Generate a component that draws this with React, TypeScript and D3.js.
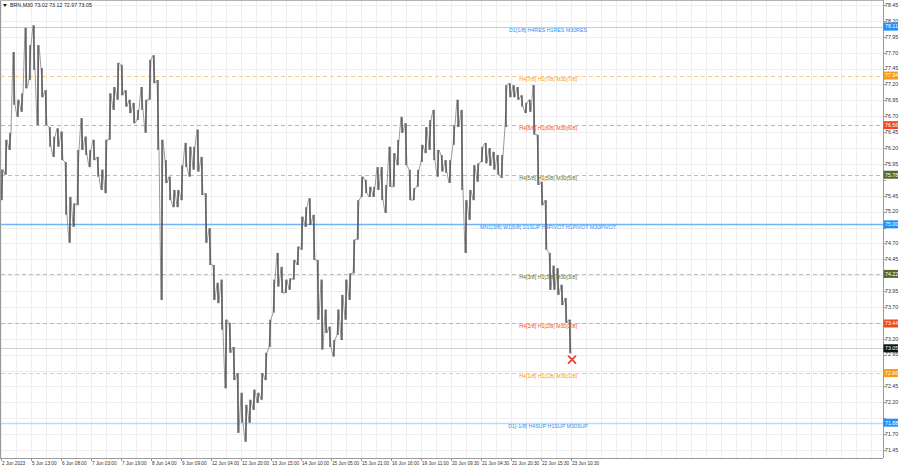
import React from "react";
import * as d3 from "d3";

const W = 900;
const H = 468;

// Symbol header: open, high, low, close of the last bar
const symbol = "BRN,M30";
const lastOHLC = [73.02, 73.12, 72.97, 73.05];

// Bar highs / lows (left to right)
const highs = [
  75.86, 76.33, 76.44, 77.71, 76.96, 77.06, 78.09, 77.82, 78.13, 77.82,
  77.46, 77.11, 76.53, 76.38, 76.51, 76.46, 75.98, 75.43, 75.33, 76.17,
  76.67, 76.38, 76.17, 76.33, 76.06, 75.86, 76.33, 77.06, 77.16, 77.54,
  77.51, 77.11, 76.96, 76.91, 76.8, 77.16, 76.96, 77.59, 77.66, 77.27,
  76.33, 76.01, 75.75, 75.54, 75.54, 75.93, 76.28, 76.22, 76.22, 76.49,
  76.06, 75.49, 74.94, 74.36, 74.08, 74.13, 73.5, 73.45, 73.07, 72.66,
  72.35, 72.16, 72.24, 72.4, 72.35, 72.66, 72.98, 73.5, 74.13, 74.55,
  74.33, 74.13, 74.15, 74.44, 74.65, 75.12, 75.27, 75.41, 75.15, 74.44,
  74.13, 73.66, 73.39, 73.18, 73.66, 73.89, 74.13, 74.23, 74.76, 75.38,
  75.75, 75.7, 75.59, 75.59, 75.9, 75.9, 75.62, 76.22, 76.12, 76.33,
  76.69, 76.59, 75.86, 75.57, 75.86, 76.25, 76.53, 76.64, 76.8, 76.17,
  76.09, 76.01, 76.01, 76.56, 76.96, 76.8, 75.38, 75.54, 75.93, 75.96,
  76.22, 76.28, 76.2, 76.14, 76.09, 76.09, 77.19, 77.22, 77.19, 77.16,
  77.03, 76.91, 76.96, 77.19, 76.41, 75.67, 75.38, 74.55, 74.35, 74.31,
  74.05, 73.84, 73.5,
];
const lows = [
  75.38, 75.78, 76.17, 76.88, 76.69, 76.77, 77.14, 77.27, 77.43, 76.56,
  77.0, 76.56, 76.22, 76.06, 76.22, 76.01, 75.15, 74.71, 74.96, 75.3,
  76.17, 76.09, 75.9, 76.01, 75.75, 75.54, 75.49, 76.33, 76.8, 76.96,
  77.03, 76.85, 76.75, 76.59, 76.64, 76.8, 76.44, 76.96, 77.22, 76.17,
  73.81, 75.65, 75.38, 75.27, 75.27, 75.38, 75.9, 75.75, 75.86, 75.83,
  75.46, 74.71, 74.36, 73.81, 73.76, 73.34, 72.42, 72.98, 72.55, 71.72,
  71.88, 71.58, 71.88, 72.08, 72.19, 72.24, 72.55, 73.07, 73.61, 74.02,
  73.92, 73.92, 73.97, 74.13, 74.36, 74.6, 74.96, 74.99, 74.44, 73.5,
  73.03, 73.29, 73.07, 72.92, 73.26, 73.18, 73.5, 73.81, 74.23, 74.76,
  75.43, 75.49, 75.43, 75.43, 75.54, 75.38, 75.18, 75.59, 75.59, 75.93,
  76.44, 75.93, 75.38, 75.38, 75.59, 75.98, 76.12, 76.17, 76.01, 75.75,
  75.83, 75.81, 75.65, 76.25, 76.53, 75.54, 74.55, 75.07, 75.38, 75.67,
  75.98, 75.96, 75.92, 75.86, 75.78, 75.73, 76.53, 77.0, 77.0, 76.96,
  76.85, 76.75, 76.77, 76.41, 75.62, 75.3, 74.6, 73.97, 73.97, 73.89,
  73.73, 73.45, 72.97,
];

// Price axis tick labels
const priceTickLabels = [
  "78.45", "78.20", "77.95", "77.70", "77.45", "77.20", "76.95", "76.70",
  "76.45", "76.20", "75.95", "75.70", "75.45", "75.20", "74.95", "74.70",
  "74.45", "74.20", "73.95", "73.70", "73.45", "73.20", "72.95", "72.70",
  "72.45", "72.20", "71.95", "71.70", "71.45",
];

// Time axis labels
const timeLabels = [
  "2 Jun 2023", "5 Jun 13:00", "6 Jun 08:00", "7 Jun 03:00", "7 Jun 19:00",
  "8 Jun 14:00", "9 Jun 09:00", "12 Jun 04:00", "12 Jun 20:00", "13 Jun 15:00",
  "14 Jun 10:00", "15 Jun 05:00", "15 Jun 21:00", "16 Jun 16:00", "19 Jun 11:00",
  "20 Jun 09:30", "21 Jun 04:30", "21 Jun 20:30", "22 Jun 15:30", "23 Jun 10:30",
];
const barsPerTimeLabel = 7.5;

// Murrey math style levels
const levelPrices = [78.11, 77.34, 76.56, 75.78, 75.0, 74.22, 73.44, 72.66, 71.88];
const levelNames = [
  "D1[1/8] H4RES H1RES M30RES",
  "H4[7/8] H1[7/8] M30[7/8]",
  "H4[6/8] H1[6/8] M30[6/8]",
  "H4[5/8] H1[5/8] M30[5/8]",
  "MN1[3/8] W1[6/8] D1SUP H4PIVOT H1PIVOT M30PIVOT",
  "H4[3/8] H1[3/8] M30[3/8]",
  "H4[2/8] H1[2/8] M30[2/8]",
  "H4[1/8] H1[1/8] M30[1/8]",
  "D1[-1/8] H4SUP H1SUP M30SUP",
];
const levelKinds = ["res", "o7", "o6", "g", "pivot", "g", "o6", "o7", "sup"];

// Red cross marker (bar index, price)
const crossMark = [142.5, 72.87];

const kindStyle: Record<string, { line: string; dash: string | null; width: number; text: string; box: string }> = {
  res: { line: "#a9d3fb", dash: null, width: 1, text: "#2f8ff0", box: "#1e90ff" },
  pivot: { line: "#6db4fb", dash: null, width: 1.3, text: "#2f8ff0", box: "#1e90ff" },
  sup: { line: "#b9dcfc", dash: null, width: 1.5, text: "#2f8ff0", box: "#1e90ff" },
  o7: { line: "#fbc98f", dash: "4,3", width: 1, text: "#f59a1a", box: "#f59a1a" },
  o6: { line: "#fa9f84", dash: "4,3", width: 1, text: "#f0502a", box: "#ee4a1e" },
  g: { line: "#c3bdad", dash: "4,3", width: 1, text: "#5d7330", box: "#55692c" },
};

const FONT = "'Liberation Sans', Arial, sans-serif";

export default function App() {
  const plotLeft = 0;
  const plotRight = 883;
  const plotTop = 1;
  const plotBottom = 458;

  const x = d3.scaleLinear().domain([0, highs.length - 1]).range([2, 570]);
  const y = d3.scaleLinear().domain([71.45, 78.45]).range([450, 5]);

  const tickValues = priceTickLabels.map((s) => +s);
  const boxPrices = [...levelPrices, lastOHLC[3]];
  const hiddenTick = (v: number) => boxPrices.some((p) => Math.abs(y(p) - y(v)) < 5.5);

  // vertical grid every half time-label spacing
  const gridXs: number[] = [];
  for (let k = 0; k * (barsPerTimeLabel / 2) <= 230; k++) {
    const gx = x(k * (barsPerTimeLabel / 2)) - 0.5;
    if (gx < plotRight) gridXs.push(gx);
  }

  // zigzag path through bars
  const pts: [number, number][] = [];
  for (let i = 0; i < highs.length; i++) {
    const mid = (highs[i] + lows[i]) / 2;
    const nextMid = i < highs.length - 1 ? (highs[i + 1] + lows[i + 1]) / 2 : lastOHLC[3];
    if (nextMid < mid) {
      pts.push([x(i) - 1, y(highs[i])]);
      pts.push([x(i) + 1, y(lows[i])]);
    } else {
      pts.push([x(i) - 1, y(lows[i])]);
      pts.push([x(i) + 1, y(highs[i])]);
    }
  }
  const zig = d3.line()(pts) || "";

  const lastClose = lastOHLC[3];

  return (
    <div style={{ position: "fixed", left: 0, top: 0, width: W, height: H, background: "#fff" }}>
      <svg width={W} height={H} style={{ display: "block" }} fontFamily={FONT}>
        <rect x={0} y={0} width={W} height={H} fill="#ffffff" />
        {/* grid */}
        {gridXs.map((gx, i) => (
          <line key={"gx" + i} x1={gx} x2={gx} y1={plotTop} y2={plotBottom} stroke="#eeeeee" strokeWidth={1} />
        ))}
        {tickValues.map((v, i) => (
          <line key={"gy" + i} x1={plotLeft} x2={plotRight} y1={Math.round(y(v)) + 0.5} y2={Math.round(y(v)) + 0.5} stroke="#eeeeee" strokeWidth={1} />
        ))}

        {/* frame */}
        <line x1={0.5} x2={0.5} y1={0} y2={plotBottom} stroke="#9a9a9a" />
        <line x1={0} x2={plotRight} y1={0.5} y2={0.5} stroke="#b5b5b5" />
        <line x1={plotRight + 0.5} x2={plotRight + 0.5} y1={0} y2={plotBottom} stroke="#9a9a9a" />
        <line x1={0} x2={plotRight} y1={plotBottom + 0.5} y2={plotBottom + 0.5} stroke="#9a9a9a" />

        {/* level lines */}
        {levelPrices.map((p, i) => {
          const st = kindStyle[levelKinds[i]];
          const ly = Math.round(y(p)) + 0.5;
          return (
            <line key={"lv" + i} x1={1} x2={plotRight} y1={ly} y2={ly} stroke={st.line} strokeWidth={st.width} strokeDasharray={st.dash || undefined} />
          );
        })}
        {/* current price line */}
        <line x1={1} x2={plotRight} y1={Math.round(y(lastClose)) + 0.5} y2={Math.round(y(lastClose)) + 0.5} stroke="#d0d0d0" strokeWidth={1} />

        {/* price bars */}
        <path d={zig} fill="none" stroke="#9a9a9a" strokeWidth={1} strokeLinejoin="round" />
        {highs.map((h, i) => (
          <rect key={"b" + i} x={x(i) - 0.6} y={y(h)} width={1.2} height={Math.max(1, y(lows[i]) - y(h))} fill="#3d3d3d" />
        ))}

        {/* level labels */}
        {levelPrices.map((p, i) => {
          const st = kindStyle[levelKinds[i]];
          return (
            <text key={"lt" + i} x={548} y={y(p) + 5} fontSize={5.3} fill={st.text} textAnchor="middle">
              {levelNames[i]}
            </text>
          );
        })}

        {/* red cross */}
        <g stroke="#e8413a" strokeWidth={1.8} strokeLinecap="round">
          <line x1={x(crossMark[0]) - 3.5} x2={x(crossMark[0]) + 3.5} y1={y(crossMark[1]) - 3.5} y2={y(crossMark[1]) + 3.5} />
          <line x1={x(crossMark[0]) - 3.5} x2={x(crossMark[0]) + 3.5} y1={y(crossMark[1]) + 3.5} y2={y(crossMark[1]) - 3.5} />
        </g>

        {/* price axis ticks */}
        {tickValues.map((v, i) => (
          <g key={"pt" + i}>
            <line x1={plotRight} x2={plotRight + 3} y1={Math.round(y(v)) + 0.5} y2={Math.round(y(v)) + 0.5} stroke="#9a9a9a" />
            {!hiddenTick(v) && (
              <text x={885} y={y(v)} dy="0.35em" fontSize={5.3} fill="#333">
                {priceTickLabels[i]}
              </text>
            )}
          </g>
        ))}

        {/* level price boxes */}
        {levelPrices.map((p, i) => {
          const st = kindStyle[levelKinds[i]];
          return (
            <g key={"bx" + i}>
              <rect x={plotRight + 0.5} y={y(p) - 4} width={14.5} height={8} fill={st.box} />
              <text x={885} y={y(p)} dy="0.35em" fontSize={5.3} fill="#fff">
                {p.toFixed(2)}
              </text>
            </g>
          );
        })}
        <rect x={plotRight + 0.5} y={y(lastClose) - 4} width={14.5} height={8} fill="#111" />
        <text x={885} y={y(lastClose)} dy="0.35em" fontSize={5.3} fill="#fff">
          {lastClose.toFixed(2)}
        </text>

        {/* time axis */}
        {timeLabels.map((t, i) => {
          const tx = x(i * barsPerTimeLabel) - 1;
          return (
            <g key={"tl" + i}>
              <line x1={tx + 0.5} x2={tx + 0.5} y1={plotBottom} y2={plotBottom + 3} stroke="#9a9a9a" />
              <text x={tx + 1} y={464.5} fontSize={4.7} fill="#333">
                {t}
              </text>
            </g>
          );
        })}

        {/* header */}
        <path d="M3,4 L7,4 L5,7 Z" fill="#222" />
        <text x={10} y={7} fontSize={5.3} fill="#222">
          {symbol + "  " + lastOHLC.map((v) => v.toFixed(2)).join(" ")}
        </text>
      </svg>
    </div>
  );
}
